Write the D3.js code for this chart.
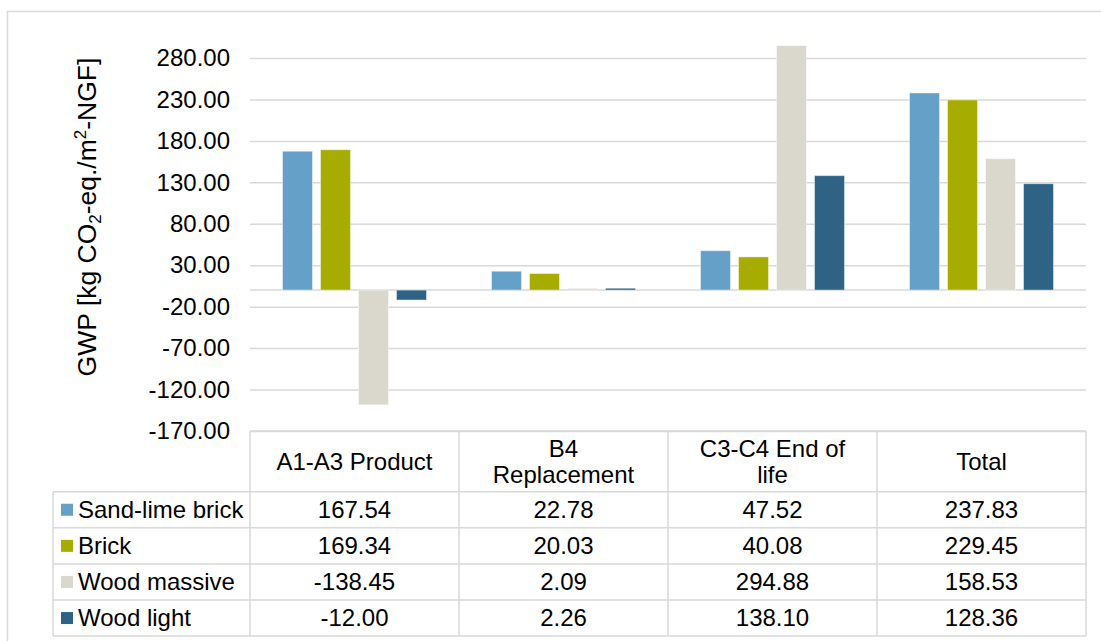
<!DOCTYPE html>
<html>
<head>
<meta charset="utf-8">
<script src="https://cdn.jsdelivr.net/npm/d3@7"></script>
<style>
  html, body { margin: 0; padding: 0; background: #fff; }
  svg { display: block; font-family: "Liberation Sans", Arial, sans-serif; }
</style>
</head>
<body>
<svg id="chart" width="1101" height="641"></svg>
<script>
// Life-cycle stages (header lines as shown in the data table)
const categories = ["A1-A3 Product", "B4 Replacement", "C3-C4 End of life", "Total"];
const categoryLines = [["A1-A3 Product"], ["B4", "Replacement"], ["C3-C4 End of", "life"], ["Total"]];

// Construction variants
const seriesNames = ["Sand-lime brick", "Brick", "Wood massive", "Wood light"];
const seriesColors = ["#65a0c9", "#a6ad00", "#dad8cc", "#2e6386"];

// GWP per stage for each variant [kg CO2-eq./m²-NGF]
const sandLimeBrick = [167.54, 22.78, 47.52, 237.83];
const brick = [169.34, 20.03, 40.08, 229.45];
const woodMassive = [-138.45, 2.09, 294.88, 158.53];
const woodLight = [-12.00, 2.26, 138.10, 128.36];
const seriesValues = [sandLimeBrick, brick, woodMassive, woodLight];

// Value-axis ticks
const yTicks = [280, 230, 180, 130, 80, 30, -20, -70, -120, -170];

// number format with a plain hyphen for negatives
const locale = d3.formatLocale({ decimal: ".", thousands: ",", grouping: [3], currency: ["", ""], minus: "-" });
const fmt = locale.format(".2f");

const svg = d3.select("#chart");
const FONT = 24;
const grid = "#d9d9d9";

// frame around the chart area
svg.append("rect")
  .attr("x", 7.5).attr("y", 11.5)
  .attr("width", 1110).attr("height", 650)
  .attr("fill", "none").attr("stroke", grid).attr("stroke-width", 1.5);

const plotLeft = 250, plotRight = 1086, plotTop = 58, plotBottom = 431;

const x = d3.scaleBand().domain(categories).range([plotLeft, plotRight]).padding(0);
const xInner = d3.scaleBand().domain(seriesNames)
  .range([0, x.bandwidth()]).paddingInner(8 / 38).paddingOuter(0.855);
const y = d3.scaleLinear().domain([-170, 280]).range([plotBottom, plotTop]);

// gridlines
const yAxis = d3.axisLeft(y).tickValues(yTicks).tickFormat(fmt)
  .tickSize(-(plotRight - plotLeft)).tickPadding(20);
const gy = svg.append("g").attr("transform", `translate(${plotLeft},0)`).call(yAxis);
gy.select(".domain").remove();
gy.selectAll(".tick line").attr("stroke", grid).attr("stroke-width", 1.5);
gy.selectAll(".tick text")
  .attr("font-size", FONT).attr("fill", "#000")
  .attr("font-family", "Liberation Sans, Arial, sans-serif");

// zero line
svg.append("line")
  .attr("x1", plotLeft).attr("x2", plotRight)
  .attr("y1", y(0)).attr("y2", y(0))
  .attr("stroke", grid).attr("stroke-width", 1.5);

// bars
seriesNames.forEach((name, si) => {
  svg.append("g").selectAll("rect")
    .data(seriesValues[si].map((v, ci) => ({ cat: categories[ci], v })))
    .join("rect")
    .attr("x", d => x(d.cat) + xInner(name))
    .attr("width", xInner.bandwidth())
    .attr("y", d => y(Math.max(0, d.v)))
    .attr("height", d => Math.abs(y(d.v) - y(0)))
    .attr("fill", seriesColors[si])
    .attr("stroke", "#ffffff").attr("stroke-opacity", 0.45).attr("stroke-width", 1);
});

// y-axis title
const title = svg.append("text")
  .attr("transform", "translate(96,217) rotate(-90)")
  .attr("text-anchor", "middle")
  .attr("font-size", 26.5).attr("fill", "#000");
title.append("tspan").text("GWP [kg CO");
title.append("tspan").attr("font-size", 17).attr("dy", 5).text("2");
title.append("tspan").attr("dy", -5).text("-eq./m");
title.append("tspan").attr("font-size", 17).attr("dy", -10).text("2");
title.append("tspan").attr("dy", 10).text("-NGF]");

// data table
const headerTop = 431, headerBottom = 491.7, rowH = 36.1;
const legendLeft = 53;
const rowTop = i => headerBottom + i * rowH;
const tableBottom = rowTop(seriesNames.length);
const tbl = svg.append("g").attr("stroke", grid).attr("stroke-width", 1.5);

// horizontal lines
tbl.append("line").attr("x1", plotLeft).attr("x2", plotRight).attr("y1", headerTop).attr("y2", headerTop);
d3.range(seriesNames.length + 1).forEach(i => {
  tbl.append("line").attr("x1", legendLeft).attr("x2", plotRight)
    .attr("y1", rowTop(i)).attr("y2", rowTop(i));
});
// vertical lines
tbl.append("line").attr("x1", legendLeft).attr("x2", legendLeft)
  .attr("y1", headerBottom).attr("y2", tableBottom);
categories.forEach(c => {
  tbl.append("line").attr("x1", x(c)).attr("x2", x(c))
    .attr("y1", headerTop).attr("y2", tableBottom);
});
tbl.append("line").attr("x1", plotRight).attr("x2", plotRight)
  .attr("y1", headerTop).attr("y2", tableBottom);

// header labels
categories.forEach((c, ci) => {
  const lines = categoryLines[ci];
  const cy = (headerTop + headerBottom) / 2;
  const lh = 26;
  lines.forEach((ln, li) => {
    svg.append("text")
      .attr("x", x(c) + x.bandwidth() / 2)
      .attr("y", cy + (li - (lines.length - 1) / 2) * lh)
      .attr("dy", "0.35em")
      .attr("text-anchor", "middle")
      .attr("font-size", FONT).attr("fill", "#000")
      .text(ln);
  });
});

// rows: legend key, series name, values
seriesNames.forEach((name, si) => {
  const cy = rowTop(si) + rowH / 2;
  svg.append("rect")
    .attr("x", 61).attr("y", cy - 6)
    .attr("width", 12).attr("height", 12)
    .attr("fill", seriesColors[si]);
  svg.append("text")
    .attr("x", 78).attr("y", cy).attr("dy", "0.35em")
    .attr("font-size", FONT).attr("fill", "#000")
    .text(name);
  seriesValues[si].forEach((v, ci) => {
    svg.append("text")
      .attr("x", x(categories[ci]) + x.bandwidth() / 2)
      .attr("y", cy).attr("dy", "0.35em")
      .attr("text-anchor", "middle")
      .attr("font-size", FONT).attr("fill", "#000")
      .text(fmt(v));
  });
});
</script>
</body>
</html>
